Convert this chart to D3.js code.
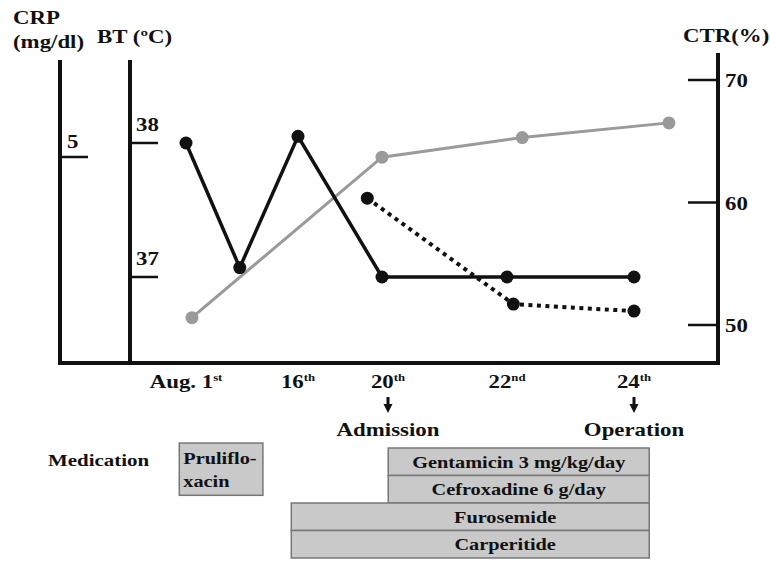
<!DOCTYPE html>
<html>
<head>
<meta charset="utf-8">
<script src="https://cdn.jsdelivr.net/npm/d3@7"></script>
<style>
  body { margin: 0; background: #fff; }
  svg text { font-family: "Liberation Serif", "Times New Roman", serif; font-weight: bold; fill: #111; }
</style>
</head>
<body>
<script>
// days (Aug.) and values
var btDays = [1, 8.2, 16, 20, 22, 24];
var btValues = [38.0, 37.07, 38.05, 37.0, 37.0, 37.0];
var ctrDays = [1.8, 20, 22.24, 24.55];
var ctrValues = [50.6, 63.7, 65.3, 66.5];
var crpDays = [19.3, 22.1, 24];
var crpValues = [4.0, 1.43, 1.26];

var dateTicks = [1, 16, 20, 22, 24];
var dateLabels = ["Aug. 1", "16", "20", "22", "24"];
var dateSups = ["st", "th", "th", "nd", "th"];
var eventDays = [20, 24];
var eventLabels = ["Admission", "Operation"];

var crpTicks = [5], btTicks = [37, 38], ctrTicks = [50, 60, 70];

var medNames = ["Gentamicin 3 mg/kg/day", "Cefroxadine 6 g/day", "Furosemide", "Carperitide"];
var medStart = [20.1, 20.1, 15.1, 15.1];
var medEnd = [24.24, 24.24, 24.24, 24.24];
var medRow = [0, 1, 2, 3];
var pruli = { lines: ["Pruliflo-", "xacin"], start: 0.1, end: 11.3, row: -0.18, rows: 1.9 };

var W = 770, H = 561, SX = 1.27;

// x: piecewise day scale (the original axis is not linear in days)
var x = d3.scaleLinear().domain([1, 16, 20, 22, 24]).range([186, 298, 382, 507, 634]);
var yBT = d3.scaleLinear().domain([37, 38]).range([277, 143]);
var yCRP = d3.scaleLinear().domain([0, 5]).range([363, 157]);
var yCTR = d3.scaleLinear().domain([50, 70]).range([325, 80]);
var yRow = d3.scaleLinear().domain([0, 1]).range([448, 475.5]);

var svg = d3.select("body").append("svg")
    .attr("width", W).attr("height", H);

function label (g, px, py, str, size, anchor) {
    return g.append("text")
        .attr("transform", "translate(" + px + "," + py + ") scale(" + SX + ",1)")
        .attr("text-anchor", anchor || "start")
        .style("font-size", size + "px")
        .text(str);
}

// axis titles
label(svg, 13, 24, "CRP", 18);
label(svg, 13, 48, "(mg/dl)", 18);
label(svg, 97, 43, "BT (ºC)", 18);
label(svg, 683, 42, "CTR(%)", 18);

// axis lines
var axes = svg.append("g").attr("stroke", "#111").attr("stroke-width", 4);
axes.append("line").attr("x1", 60).attr("x2", 60).attr("y1", 60).attr("y2", 363);
axes.append("line").attr("x1", 130).attr("x2", 130).attr("y1", 60).attr("y2", 363);
axes.append("line").attr("x1", 718).attr("x2", 718).attr("y1", 53).attr("y2", 363);
axes.append("line").attr("x1", 58).attr("x2", 720).attr("y1", 363).attr("y2", 363);

// ticks
var ticks = svg.append("g");
ticks.selectAll(".crp").data(crpTicks).enter().append("line")
    .attr("x1", 60).attr("x2", 88)
    .attr("y1", d => yCRP(d)).attr("y2", d => yCRP(d));
crpTicks.forEach(d => label(ticks, 67, yCRP(d) - 9, d, 18));
ticks.selectAll(".bt").data(btTicks).enter().append("line")
    .attr("x1", 130).attr("x2", 158)
    .attr("y1", d => yBT(d)).attr("y2", d => yBT(d));
btTicks.forEach(d => label(ticks, 136, yBT(d) - 12, d, 18));
ticks.selectAll(".ctr").data(ctrTicks).enter().append("line")
    .attr("x1", 688).attr("x2", 718)
    .attr("y1", d => yCTR(d)).attr("y2", d => yCTR(d));
ctrTicks.forEach(d => label(ticks, 725, yCTR(d) + 7, d, 18));
ticks.selectAll("line").attr("stroke", "#111").attr("stroke-width", 2.5);

// date labels
dateTicks.forEach((d, i) => {
    var t = label(svg, x(d) + (d === 20 ? 6 : 0), 388, dateLabels[i], 18, "middle");
    t.append("tspan").attr("dy", -7).style("font-size", "10px").text(dateSups[i]);
});

// events
eventDays.forEach((d, i) => {
    var ax = x(d) + (i === 0 ? 6 : 0);
    svg.append("line").attr("x1", ax).attr("x2", ax).attr("y1", 397).attr("y2", 407)
        .attr("stroke", "#111").attr("stroke-width", 3);
    svg.append("path").attr("d", "M" + (ax - 4.5) + ",404L" + (ax + 4.5) + ",404L" + ax + ",413Z")
        .attr("fill", "#111");
    label(svg, ax, 436, eventLabels[i], 18, "middle");
});

// series
function series (days, vals, yScale, color, dash, width) {
    var pts = days.map((d, i) => [x(d), yScale(vals[i])]);
    svg.append("path")
        .attr("d", d3.line()(pts))
        .attr("fill", "none")
        .attr("stroke", color)
        .attr("stroke-width", width)
        .attr("stroke-dasharray", dash);
    svg.selectAll(null).data(pts).enter().append("circle")
        .attr("cx", d => d[0]).attr("cy", d => d[1])
        .attr("r", 6.5).attr("fill", color);
}
series(ctrDays, ctrValues, yCTR, "#9a9a9a", null, 3);
series(btDays, btValues, yBT, "#111", null, 3.5);
series(crpDays, crpValues, yCRP, "#111", "4,4.5", 4);

// medication
label(svg, 48, 466, "Medication", 16.5);
var meds = svg.append("g");
medNames.forEach((m, i) => {
    var x0 = x(medStart[i]), x1 = x(medEnd[i]);
    var y0 = yRow(medRow[i]), y1 = yRow(medRow[i] + 1);
    meds.append("rect")
        .attr("x", x0).attr("y", y0).attr("width", x1 - x0).attr("height", y1 - y0)
        .attr("fill", "#c9c9c9").attr("stroke", "#777").attr("stroke-width", 1.5);
    // text is centred over the part of the bar after admission
    var cx = (Math.max(x0, x(19)) + x1) / 2;
    label(meds, cx, (y0 + y1) / 2 + 6, m, 16, "middle");
});
var px0 = x(pruli.start), px1 = x(pruli.end);
var py0 = yRow(pruli.row), py1 = yRow(pruli.row + pruli.rows);
meds.append("rect")
    .attr("x", px0).attr("y", py0).attr("width", px1 - px0).attr("height", py1 - py0)
    .attr("fill", "#c9c9c9").attr("stroke", "#777").attr("stroke-width", 1.5);
pruli.lines.forEach((l, i) => label(meds, px0 + 4, py0 + 21 + i * 23, l, 16));
</script>
</body>
</html>
